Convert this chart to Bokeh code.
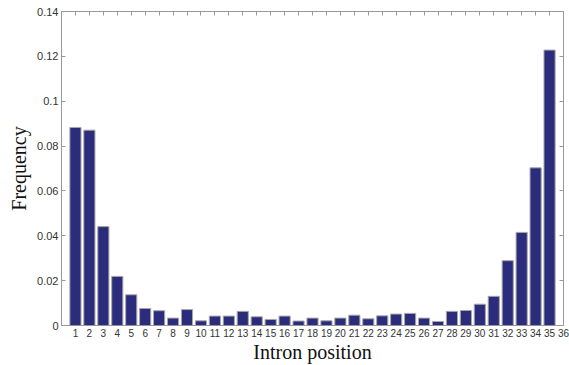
from bokeh.plotting import figure
from bokeh.models import LinearAxis, FixedTicker, Range1d
from bokeh.embed import file_html
from bokeh.resources import INLINE

positions = list(range(1, 36))
frequency = [0.0883, 0.0871, 0.0441, 0.0219, 0.0137, 0.0076, 0.0066, 0.0033, 0.0071, 0.0021,
             0.0042, 0.0042, 0.0063, 0.0039, 0.0027, 0.0042, 0.0020, 0.0033, 0.0021, 0.0033,
             0.0046, 0.0030, 0.0043, 0.0051, 0.0054, 0.0033, 0.0018, 0.0063, 0.0067, 0.0095,
             0.0130, 0.0289, 0.0415, 0.0703, 0.1228]
x_ticks = list(range(1, 37))
y_ticks = [0, 0.02, 0.04, 0.06, 0.08, 0.1, 0.12, 0.14]
y_tick_labels = {0: "0", 0.02: "0.02", 0.04: "0.04", 0.06: "0.06", 0.08: "0.08",
                 0.1: "0.1", 0.12: "0.12", 0.14: "0.14"}

p = figure(width=569, height=365, output_backend="svg", toolbar_location=None,
           x_range=Range1d(0, 36), y_range=Range1d(0, 0.14),
           min_border_left=61, min_border_right=6, min_border_top=11, min_border_bottom=40,
           x_axis_location=None, y_axis_location=None)
p.grid.visible = False
p.outline_line_color = "#999999"
p.outline_line_width = 1
p.background_fill_color = "white"
p.border_fill_color = "white"

p.vbar(x=positions, top=frequency, width=0.8, bottom=0,
       fill_color="#2b2d7c", line_color="#a8a8a8", line_width=1)

def style(ax, labels=True):
    ax.axis_line_color = None
    ax.major_tick_in = 4
    ax.major_tick_out = 0
    ax.minor_tick_line_color = None
    ax.major_tick_line_color = "#999999"
    if not labels:
        ax.major_label_text_font_size = "0px"
        ax.major_label_text_color = None
        ax.major_label_standoff = 0
        ax.axis_label_standoff = 0

left = LinearAxis(ticker=FixedTicker(ticks=y_ticks), axis_label="Frequency",
                  major_label_overrides=y_tick_labels)
style(left)
left.major_label_text_font = "Liberation Sans"
left.major_label_text_font_size = "11px"
left.major_label_text_color = "#333333"
left.major_label_standoff = 3
left.axis_label_text_font = "Liberation Serif"
left.axis_label_text_font_size = "20px"
left.axis_label_text_font_style = "normal"
left.axis_label_text_color = "#111111"
left.axis_label_standoff = 4
p.add_layout(left, "left")

right = LinearAxis(ticker=FixedTicker(ticks=y_ticks))
style(right, labels=False)
p.add_layout(right, "right")

bottom = LinearAxis(ticker=FixedTicker(ticks=x_ticks), axis_label="Intron position")
style(bottom)
bottom.major_tick_line_color = None
bottom.major_label_text_font = "Liberation Sans"
bottom.major_label_text_font_size = "10px"
bottom.major_label_text_color = "#333333"
bottom.major_label_standoff = 3
bottom.axis_label_text_font = "Liberation Serif"
bottom.axis_label_text_font_size = "20px"
bottom.axis_label_text_font_style = "normal"
bottom.axis_label_text_color = "#111111"
bottom.axis_label_standoff = 1
p.add_layout(bottom, "below")

top = LinearAxis(ticker=FixedTicker(ticks=x_ticks))
style(top, labels=False)
p.add_layout(top, "above")

open("out.html", "w").write(file_html(p, INLINE))
